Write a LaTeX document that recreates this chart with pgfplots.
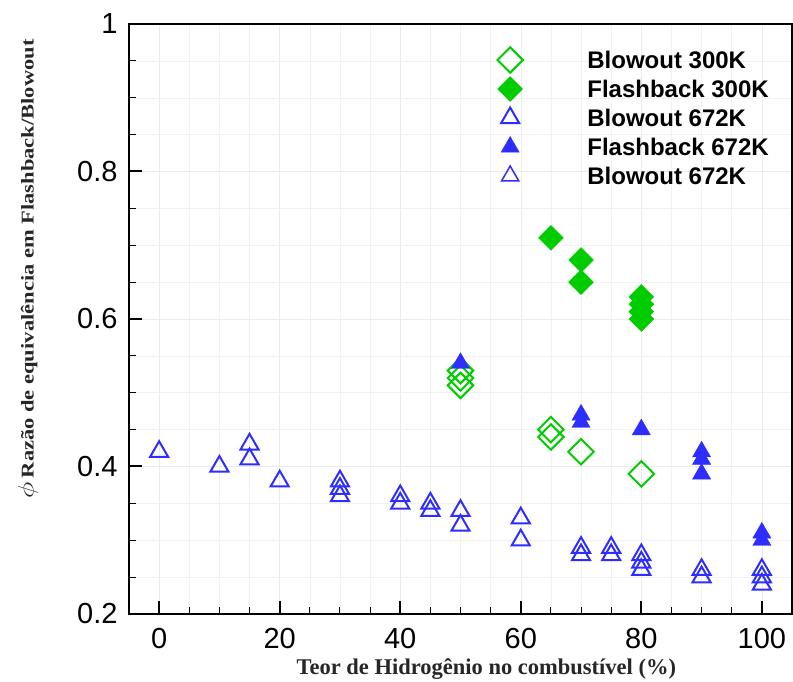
\documentclass[border=0pt]{standalone}
\usepackage{pgfplots}
\pgfplotsset{compat=1.18}
\usepackage{fontspec}
\setmainfont{Liberation Sans}
\newfontfamily\lserif{Liberation Serif}
\definecolor{mygreen}{RGB}{0,204,0}
\definecolor{myblue}{RGB}{45,45,255}
\begin{document}
\begin{tikzpicture}
\path[use as bounding box] (-129pt,-68pt) rectangle (664pt,614pt);
\begin{axis}[
  scale only axis, width=663pt, height=590pt,
  xmin=-5, xmax=105, ymin=0.2, ymax=1,
  xtick={0,20,...,100}, ytick={0.2,0.4,0.6,0.8,1},
  minor tick num=3,
  tick align=inside, tick pos=left,
  major tick length=13pt, minor tick length=7pt,
  every major tick/.style={line width=2pt, black},
  every minor tick/.style={line width=1pt, black},
  axis line style={line width=2pt},
  grid=both,
  major grid style={black!8, line width=0.5pt},
  minor grid style={black!5, line width=0.5pt},
  /pgf/number format/assume math mode=true,
  ticklabel style={font=\fontsize{29}{31}\selectfont},
  xticklabel style={yshift=-11pt},
  yticklabel style={xshift=-8pt},
  xlabel={Teor de Hidrogênio no combustível (\%)},
  xlabel style={at={(rel axis cs:0.539,0)}, anchor=base, yshift=-61pt,
    font=\lserif\bfseries\fontsize{22.5}{24}\selectfont, text=black!85},
  ylabel={\scalebox{1}[0.8]{\scalebox{1.35}{$\phi$}\,Razão de equivalência em Flashback/Blowout}},
  ylabel style={at={(rel axis cs:-0.1523,0.585)}, anchor=center,
    font=\lserif\bfseries\fontsize{22.5}{24}\selectfont, text=black!85},
  legend image code/.code={
    \path (-14pt,-6pt) (62pt,6pt);
    \draw[#1, overlay] plot coordinates {(0pt,0pt)};
  },
  legend style={at={(rel axis cs:0.5535,0.9534)}, anchor=north west,
    draw=none, fill=none, inner sep=0pt, outer sep=0pt,
    row sep=12pt, column sep=15pt,
    font=\bfseries\fontsize{24}{26}\selectfont,
    cells={anchor=west},
    nodes={inner sep=0pt, text height=17pt, text depth=0pt}},
]
\addplot[only marks, mark=square, mark size=9pt, mark options={rotate=45, line width=2pt, draw=mygreen}]
  coordinates {(50,0.53) (50,0.52) (50,0.51) (65,0.45) (65,0.44) (70,0.42) (80,0.39)};
\addlegendentry{Blowout 300K}
\addplot[only marks, mark=square*, mark size=8.8pt, mark options={rotate=45, draw=mygreen, fill=mygreen}]
  coordinates {(65,0.71) (70,0.68) (70,0.65) (80,0.63) (80,0.62) (80,0.61) (80,0.60)};
\addlegendentry{Flashback 300K}
\addplot[only marks, mark=triangle, mark size=10.5pt, mark options={line width=2pt, draw=myblue}]
  coordinates {(0,0.42) (10,0.40) (15,0.43) (15,0.41) (20,0.38) (30,0.38) (30,0.37) (30,0.36)
  (40,0.36) (40,0.35) (45,0.35) (45,0.34) (50,0.34) (50,0.32) (60,0.33) (60,0.30)
  (70,0.29) (70,0.28) (75,0.29) (75,0.28) (80,0.28) (80,0.27) (80,0.26)
  (90,0.26) (90,0.25) (100,0.26) (100,0.25) (100,0.24)};
\addlegendentry{Blowout 672K}
\addplot[only marks, mark=triangle*, mark size=10.5pt, mark options={draw=myblue, fill=myblue}]
  coordinates {(50,0.54) (70,0.47) (70,0.46) (80,0.45) (90,0.42) (90,0.41) (90,0.39) (100,0.31) (100,0.30)};
\addlegendentry{Flashback 672K}
\addlegendimage{only marks, mark=triangle, mark size=10pt, mark options={line width=1.5pt, draw=myblue}}
\addlegendentry{Blowout 672K}
\end{axis}
\end{tikzpicture}
\end{document}
